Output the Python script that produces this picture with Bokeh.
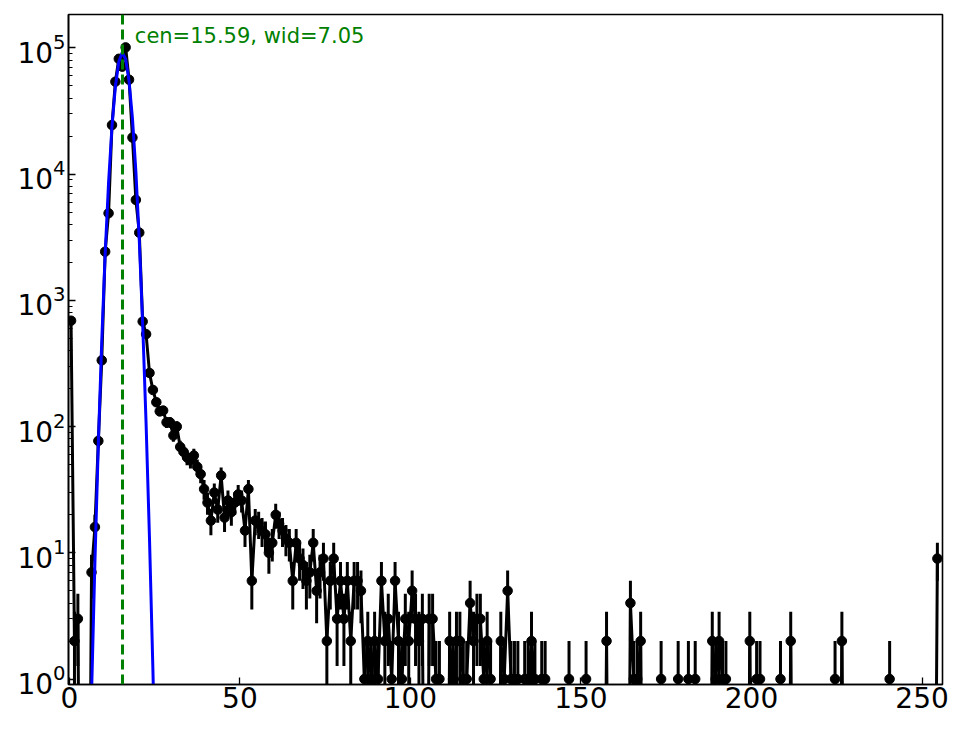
import numpy as np
from bokeh.plotting import figure
from bokeh.models import Range1d, Span, Label, FixedTicker
from bokeh.embed import file_html
from bokeh.resources import INLINE

# ---- data ----
bin_centers = np.arange(255) + 0.5
counts = [
    690, 2, 3, 0, 0, 0, 7, 16, 77, 335,                           # 0-9
    2430, 4900, 24500, 54000, 82000, 71000, 101000, 56000, 19500, 6250,  # 10-19
    3440, 680, 540, 266, 195, 156, 132, 134, 108, 108,            # 20-29
    85, 100, 69, 63, 57, 54, 59, 48, 42, 32,                      # 30-39
    25, 18, 30, 22, 41, 19, 26, 21, 25, 29,                       # 40-49
    26, 15, 32, 6, 18, 17, 15, 14, 10, 12,                        # 50-59
    20, 17, 15, 13, 12, 6, 12, 9, 8, 6,                           # 60-69
    7, 12, 5, 7, 9, 2, 6, 9, 3, 6,                                # 70-79
    3, 6, 2, 6, 6, 5, 1, 2, 1, 2,                                 # 80-89
    1, 6, 2, 3, 1, 6, 2, 1, 3, 2,                                 # 90-99
    5, 3, 2, 3, 0, 3, 3, 1, 1, 0,                                 # 100-109
    0, 2, 1, 2, 2, 1, 1, 4, 2, 3,                                 # 110-119
    3, 1, 2, 1, 0, 0, 2, 1, 5, 1,                                 # 120-129
    1, 1, 0, 1, 1, 2, 1, 0, 1, 1,                                 # 130-139
    0, 0, 0, 0, 0, 0, 1, 0, 0, 0,                                 # 140-149
    0, 1, 0, 0, 0, 0, 0, 2, 0, 0,                                 # 150-159
    0, 0, 0, 0, 4, 1, 1, 2, 0, 0,                                 # 160-169
    0, 0, 0, 1, 0, 0, 0, 0, 1, 0,                                 # 170-179
    0, 1, 0, 1, 0, 0, 0, 0, 2, 1,                                 # 180-189
    2, 1, 1, 0, 0, 0, 0, 0, 0, 2,                                 # 190-199
    0, 1, 1, 0, 0, 0, 0, 0, 1, 0,                                 # 200-209
    0, 2, 0, 0, 0, 0, 0, 0, 0, 0,                                 # 210-219
    0, 0, 0, 0, 1, 0, 2, 0, 0, 0,                                 # 220-229
    0, 0, 0, 0, 0, 0, 0, 0, 0, 0,                                 # 230-239
    1, 0, 0, 0, 0, 0, 0, 0, 0, 0,                                 # 240-249
    0, 0, 0, 0, 9,                                                # 250-254
]
fit_x = [4.5, 5.5, 6.5, 7.5, 8.5, 9.5, 10.5, 11.5, 12.5, 13.5, 14.5, 15.5,
         16.5, 17.5, 18.5, 19.5, 20.5, 21.5, 22.5, 23.5, 24.5, 25.5, 26.5, 27.5]
fit_y = [0.0024, 0.049, 0.747, 8.54, 73.6, 477, 2332, 8577, 23750, 49510, 77730, 91890,
         81810, 54830, 27670, 10520, 3011, 648, 105.3, 12.85, 1.18, 0.082, 0.0043, 0.00017]
fit_cen = 15.59
fit_wid = 7.05
x_ticks = [0, 50, 100, 150, 200, 250]
y_ticks = [1, 10, 100, 1000, 10000, 100000]

# ---- derived arrays ----
x = np.asarray(bin_centers)
c = np.asarray(counts, dtype=float)
floor = 1e-3  # non-positive values are clipped far below the axis (like matplotlib)
y_line = np.where(c > 0, c, floor)
err = np.sqrt(c)
lo = np.where(c - err > 0, c - err, floor)
hi = c + err
m = c > 0

FONT = "DejaVu Sans"

p = figure(width=956, height=721,
           x_range=Range1d(-0.25, 256.0), y_range=Range1d(0.905, 1.84e5),
           y_axis_type="log", output_backend="svg", toolbar_location=None,
           min_border_left=68, min_border_top=14, min_border_right=14, min_border_bottom=37)

p.xgrid.visible = False
p.ygrid.visible = False
p.outline_line_color = "black"
p.outline_line_width = 1.6
p.background_fill_color = "white"
p.border_fill_color = "white"

p.xaxis.ticker = FixedTicker(ticks=x_ticks)
minor = [mm * 10 ** k for k in range(-1, 6) for mm in range(2, 10)]
p.yaxis.ticker = FixedTicker(ticks=y_ticks, minor_ticks=minor)

for ax in (p.xaxis[0], p.yaxis[0]):
    ax.axis_line_color = "black"
    ax.axis_line_width = 1.6
    ax.major_tick_line_color = "black"
    ax.major_tick_line_width = 1.3
    ax.major_tick_in = 7
    ax.major_tick_out = 0
    ax.major_label_text_font = FONT
    ax.major_label_text_font_size = "28px"
    ax.major_label_text_color = "black"
p.xaxis.major_label_standoff = 2
p.yaxis.major_label_standoff = 3
p.xaxis.minor_tick_line_color = None
p.yaxis.minor_tick_line_color = "black"
p.yaxis.minor_tick_line_width = 1.0
p.yaxis.minor_tick_in = 4
p.yaxis.minor_tick_out = 0

# error bars
p.segment(x0=x[m], y0=lo[m], x1=x[m], y1=hi[m], line_color="black", line_width=3)
# data line
p.line(x, y_line, line_color="black", line_width=3)
# markers
p.scatter(x[m], c[m], size=9.5, fill_color="black", line_color="black", line_width=1)
# gaussian fit
p.line(fit_x, fit_y, line_color="blue", line_width=3)

p.add_layout(Span(location=fit_cen, dimension="height", line_color="green",
                  line_dash="10 5", line_width=3))
p.add_layout(Label(x=19.2, y=1.24e5, text="cen=%.2f, wid=%.2f" % (fit_cen, fit_wid),
                   text_color="green", text_font=FONT, text_font_size="21px",
                   text_baseline="alphabetic", text_align="left"))

open("out.html", "w").write(file_html(p, INLINE))
